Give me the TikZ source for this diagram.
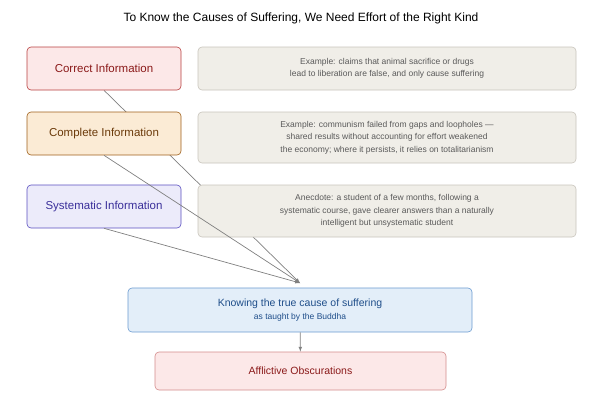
\documentclass[tikz,border=0pt]{standalone}
\usepackage{fontspec}
\setmainfont{Liberation Sans}
\usetikzlibrary{backgrounds}
\definecolor{redfill}{HTML}{FCE8E8}\definecolor{redline}{HTML}{B84040}\definecolor{redtext}{HTML}{8B1A1A}
\definecolor{orfill}{HTML}{FBEBD5}\definecolor{orline}{HTML}{A0601A}\definecolor{ortext}{HTML}{6B3A0A}
\definecolor{vifill}{HTML}{ECEBFA}\definecolor{viline}{HTML}{5A4FC0}\definecolor{vitext}{HTML}{3A2F9A}
\definecolor{grfill}{HTML}{F0EEE8}\definecolor{grline}{HTML}{C8C4BC}\definecolor{grtext}{HTML}{5A5A5A}
\definecolor{blfill}{HTML}{E3EEF9}\definecolor{blline}{HTML}{6A9AD0}\definecolor{bltext}{HTML}{1F4E8A}
\tikzset{
  box/.style={draw, rounded corners=4pt, line width=0.6pt, inner sep=0pt, align=center},
  info/.style={box, minimum width=154pt, minimum height=43pt, font=\fontsize{11.5}{13}\selectfont},
  note/.style={box, fill=grfill, draw=grline, text=grtext, minimum width=378pt, font=\fontsize{8.5}{12.5}\selectfont},
  link/.style={draw=gray, line width=0.7pt, -latex}
}
\begin{document}
\begin{tikzpicture}[x=1pt, y=-1pt]
  \useasboundingbox (0,0) rectangle (602,400);
  \node (title) at (301,18) {\fontsize{12}{14}\selectfont To Know the Causes of Suffering, We Need Effort of the Right Kind};
  % examples on the right
  \node[note, minimum height=43pt] (ex1) at (387,68.5) {Example: claims that animal sacrifice or drugs\\lead to liberation are false, and only cause suffering};
  \node[note, minimum height=51pt] (ex2) at (387,137.5) {Example: communism failed from gaps and loopholes ---\\shared results without accounting for effort weakened\\the economy; where it persists, it relies on totalitarianism};
  \node[note, minimum height=52pt] (ex3) at (387,211) {Anecdote: a student of a few months, following a\\systematic course, gave clearer answers than a naturally\\intelligent but unsystematic student};
  % the cause
  \node[box, fill=blfill, draw=blline, minimum width=344pt, minimum height=44pt] (cause) at (300,310)
    {\textcolor{bltext}{\fontsize{10.5}{13}\selectfont Knowing the true cause of suffering}\\[1pt]\textcolor{bltext}{\fontsize{8.5}{10}\selectfont as taught by the Buddha}};
  \node[box, fill=redfill, draw=redline!60, text=redtext, minimum width=291pt, minimum height=38pt,
    font=\fontsize{10.5}{13}\selectfont] (afflict) at (300.5,371) {Afflictive Obscurations};
  \coordinate (meet) at (300,283);
  \draw[link] (cause) -- (afflict);
  % the three kinds of information
  \node[info, fill=redfill, draw=redline, text=redtext] (correct) at (104,68.5) {Correct Information};
  \node[info, fill=orfill, draw=orline, text=ortext] (complete) at (104,133.5) {Complete Information};
  \node[info, fill=vifill, draw=viline, text=vitext] (systematic) at (104,206.5) {Systematic Information};
  \begin{scope}[on background layer]
    \draw[link] (correct.south) -- (meet);
  \end{scope}
  \draw[link] (complete.south) -- (meet);
  \draw[link] (systematic.south) -- (meet);
\end{tikzpicture}
\end{document}
